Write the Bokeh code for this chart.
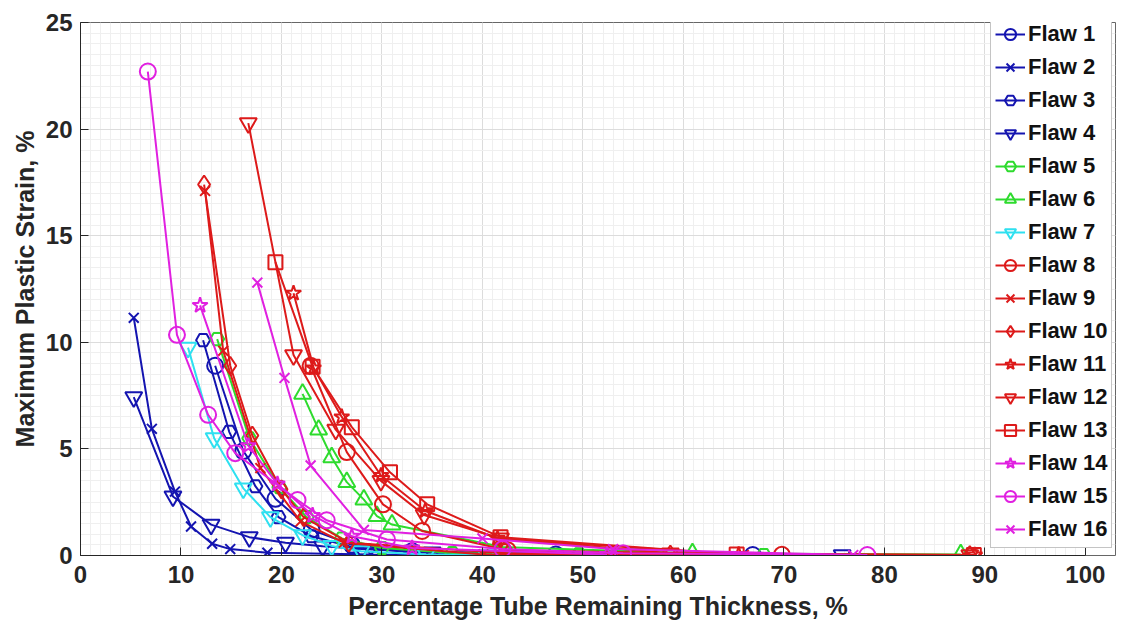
from bokeh.plotting import figure
from bokeh.models import FixedTicker, Legend, LegendItem
from bokeh.embed import file_html
from bokeh.resources import INLINE

# ---- data ----
flaw1_x = [13.4, 16.2, 19.4, 23.0, 27.0, 33.0, 47.3, 66.9]
flaw1_y = [8.9, 4.9, 2.66, 1.2, 0.5, 0.2, 0.05, 0.02]
flaw2_x = [5.3, 7.1, 9.4, 11.0, 13.1, 14.9, 18.6, 28.9, 40.0]
flaw2_y = [11.15, 5.94, 3.0, 1.36, 0.55, 0.3, 0.13, 0.05, 0.02]
flaw3_x = [12.2, 14.8, 17.4, 19.7, 23.0, 27.0, 33.0, 49.6]
flaw3_y = [10.1, 5.8, 3.25, 1.8, 0.9, 0.4, 0.15, 0.03]
flaw4_x = [5.3, 9.2, 13.0, 16.8, 20.4, 24.1, 28.0, 35.0, 55.0, 75.8]
flaw4_y = [7.43, 2.77, 1.45, 0.86, 0.6, 0.43, 0.3, 0.15, 0.05, 0.02]
flaw5_x = [13.6, 16.8, 19.8, 22.5, 26.0, 30.0, 37.0, 49.6, 68.0]
flaw5_y = [10.15, 5.5, 3.2, 1.8, 0.8, 0.35, 0.12, 0.05, 0.02]
flaw6_x = [22.1, 23.7, 25.0, 26.5, 28.2, 29.5, 31.0, 42.0, 60.9, 87.6]
flaw6_y = [7.58, 5.9, 4.6, 3.44, 2.62, 1.85, 1.45, 0.4, 0.1, 0.05]
flaw7_x = [10.7, 13.3, 16.2, 18.9, 22.1, 25.0, 27.9, 34.4, 40.4]
flaw7_y = [9.75, 5.5, 3.15, 1.8, 0.95, 0.45, 0.2, 0.05, 0.02]
flaw8_x = [22.9, 26.5, 30.1, 34.0, 42.5, 69.8]
flaw8_y = [8.9, 4.85, 2.4, 1.15, 0.25, 0.03]
flaw9_x = [12.4, 14.2, 17.9, 21.9, 26.2, 40.1, 66.0]
flaw9_y = [17.1, 9.6, 4.1, 1.6, 0.6, 0.05, 0.02]
flaw10_x = [12.3, 14.9, 17.1, 20.0, 22.2, 26.7, 42.6, 58.7, 88.5]
flaw10_y = [17.4, 8.9, 5.63, 3.1, 1.8, 0.6, 0.1, 0.05, 0.02]
flaw11_x = [21.2, 23.2, 26.0, 29.9, 34.3, 41.5, 65.5, 89.0]
flaw11_y = [12.3, 8.8, 6.5, 3.75, 2.1, 0.8, 0.05, 0.02]
flaw12_x = [16.7, 21.2, 25.4, 29.9, 34.2, 41.8, 58.7, 88.5]
flaw12_y = [20.28, 9.4, 5.9, 3.5, 1.9, 0.8, 0.1, 0.02]
flaw13_x = [19.4, 23.1, 27.0, 30.8, 34.5, 41.8, 65.3, 88.9]
flaw13_y = [13.76, 8.85, 6.02, 3.9, 2.4, 0.86, 0.05, 0.02]
flaw14_x = [11.9, 16.7, 19.6, 23.1, 27.0, 33.0, 52.4]
flaw14_y = [11.73, 5.15, 3.35, 1.88, 0.9, 0.35, 0.05]
flaw15_x = [6.7, 9.6, 12.7, 15.4, 21.6, 24.5, 30.5, 42.0, 54.0, 78.3]
flaw15_y = [22.7, 10.35, 6.6, 4.8, 2.6, 1.65, 0.75, 0.3, 0.1, 0.02]
flaw16_x = [17.6, 20.3, 22.9, 28.2, 40.0, 53.0, 76.9]
flaw16_y = [12.8, 8.33, 4.22, 1.2, 0.8, 0.3, 0.02]

labels = ["Flaw %d" % i for i in range(1, 17)]
xs = [flaw1_x, flaw2_x, flaw3_x, flaw4_x, flaw5_x, flaw6_x, flaw7_x, flaw8_x,
      flaw9_x, flaw10_x, flaw11_x, flaw12_x, flaw13_x, flaw14_x, flaw15_x, flaw16_x]
ys = [flaw1_y, flaw2_y, flaw3_y, flaw4_y, flaw5_y, flaw6_y, flaw7_y, flaw8_y,
      flaw9_y, flaw10_y, flaw11_y, flaw12_y, flaw13_y, flaw14_y, flaw15_y, flaw16_y]

BLUE = "#1414B0"
GREEN = "#2EDB2E"
CYAN = "#2EE0F0"
RED = "#DD1A1A"
MAG = "#E020E0"
colors = [BLUE, BLUE, BLUE, BLUE, GREEN, GREEN, CYAN, RED,
          RED, RED, RED, RED, RED, MAG, MAG, MAG]
markers = ["circle", "x", "hex", "inverted_triangle", "hex", "triangle", "inverted_triangle", "circle",
           "x", "diamond", "star", "inverted_triangle", "square", "star", "circle", "x"]
sizes = [16, 14, 14, 17, 14, 17, 17, 16, 14, 18, 16, 17, 14, 16, 16, 14]

x_ticks = [0, 10, 20, 30, 40, 50, 60, 70, 80, 90, 100]
y_ticks = [0, 5, 10, 15, 20, 25]

FONT = "Liberation Sans"
AXC = "#262626"

p = figure(width=1124, height=628, x_range=(0, 103), y_range=(0, 25),
           output_backend="svg", toolbar_location=None,
           min_border_left=80, min_border_right=9, min_border_top=22, min_border_bottom=73)

p.outline_line_color = "#666666"
p.outline_line_width = 1

for ax in (p.xaxis[0], p.yaxis[0]):
    ax.major_label_text_font = FONT
    ax.major_label_text_font_style = "bold"
    ax.major_label_text_font_size = "24px"
    ax.major_label_text_color = AXC
    ax.axis_label_text_font = FONT
    ax.axis_label_text_font_style = "bold"
    ax.axis_label_text_font_size = "25px"
    ax.axis_label_text_color = AXC
    ax.major_tick_in = 8
    ax.major_tick_out = 0
    ax.minor_tick_in = 0
    ax.minor_tick_out = 0
    ax.axis_line_color = AXC
    ax.major_tick_line_color = AXC

p.xaxis[0].bounds = (0, 100)
p.xaxis[0].ticker = FixedTicker(ticks=x_ticks, minor_ticks=list(range(0, 101)))
p.yaxis[0].ticker = FixedTicker(ticks=y_ticks, minor_ticks=[i * 0.5 for i in range(51)])
p.xaxis[0].axis_label = "Percentage Tube Remaining Thickness, %"
p.yaxis[0].axis_label = "Maximum Plastic Strain, %"
p.xaxis[0].axis_label_standoff = 6
p.yaxis[0].axis_label_standoff = 4
p.xaxis[0].major_label_standoff = 10
p.yaxis[0].major_label_standoff = 8

p.xgrid.bounds = (0, 100)
p.xgrid.grid_line_color = "#dcdcdc"
p.ygrid.grid_line_color = "#dcdcdc"
p.xgrid.minor_grid_line_color = "#efefef"
p.ygrid.minor_grid_line_color = "#efefef"

items = []
for lab, x, y, c, m, s in zip(labels, xs, ys, colors, markers, sizes):
    r1 = p.line(x, y, line_color=c, line_width=2)
    r2 = p.scatter(x, y, marker=m, size=s, line_color=c, line_width=2, fill_alpha=0)
    items.append(LegendItem(label=lab, renderers=[r1, r2]))

legend = Legend(items=items, location=(910, 7))
legend.label_text_font = FONT
legend.label_text_font_style = "bold"
legend.label_text_font_size = "22px"
legend.label_text_color = "#111111"
legend.glyph_width = 30
legend.glyph_height = 28
legend.label_height = 28
legend.spacing = 5
legend.padding = 4
legend.margin = 0
legend.label_standoff = 3
legend.border_line_color = "#8a8a8a"
legend.background_fill_alpha = 1
p.add_layout(legend, "center")

open("out.html", "w").write(file_html(p, INLINE))
